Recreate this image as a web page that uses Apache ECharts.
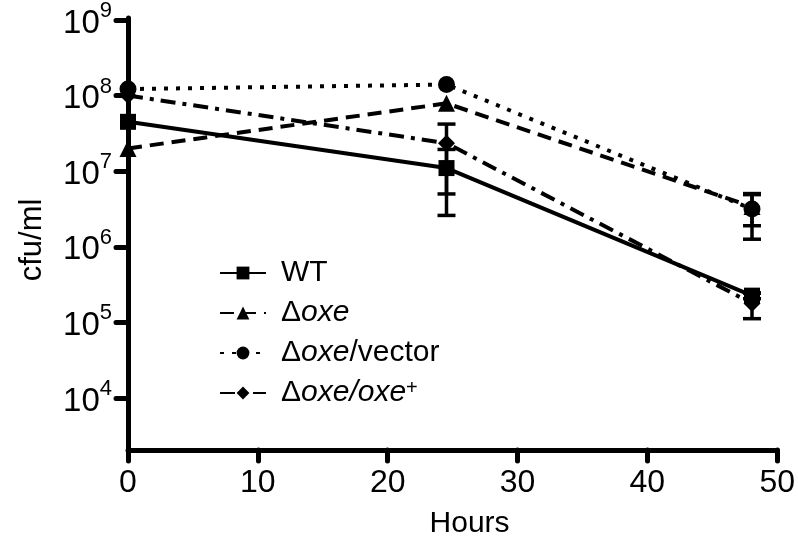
<!DOCTYPE html>
<html>
<head>
<meta charset="utf-8">
<script src="https://cdn.jsdelivr.net/npm/echarts@6/dist/echarts.min.js"></script>
<style>html,body{margin:0;padding:0;background:#fff}#c{width:798px;height:547px}</style>
</head>
<body>
<div id="c"></div>
<script>
// ---- data ----
const hours = [0, 24.5, 48];
const seriesNames = ['WT', 'Δoxe', 'Δoxe/vector', 'Δoxe/oxe+'];
const wt = [4.5e7, 1.1e7, 2.26e5];
const wtSd = [0, 8.4e6, 2e4];
const oxe = [2.0e7, 7.9e7, 3.4e6];
const oxeSd = [0, 0, 1.5e6];
const vec = [1.22e8, 1.4e8, 3.16e6];
const vecSd = [0, 0, 1.9e6];
const comp = [1.0e8, 2.35e7, 1.78e5];
const compSd = [0, 1.85e7, 6.6e4];
const xTicks = [0, 10, 20, 30, 40, 50];
const yDecades = [4, 5, 6, 7, 8, 9];

const FONT = 'Liberation Sans, Arial, Helvetica, sans-serif';
const BLACK = '#000';

function pts(vals) { return hours.map((h, i) => [h, vals[i]]); }
function errs(vals, sd) {
  return hours.map((h, i) => [h, Math.max(vals[i] - sd[i], 1e4), vals[i] + sd[i]]).filter((d, i) => sd[i] > 0);
}

const styles = [
  { symbol: 'rect', size: 16, dash: 'solid' },
  { symbol: 'triangle', size: 17, dash: [14, 8] },
  { symbol: 'circle', size: 17, dash: [4, 8] },
  { symbol: 'diamond', size: 17, dash: [15, 7, 4, 7] }
];
const values = [wt, oxe, vec, comp];
const sds = [wtSd, oxeSd, vecSd, compSd];

const series = [];
seriesNames.forEach((name, k) => {
  series.push({
    name: name,
    type: 'line',
    xAxisIndex: 0, yAxisIndex: 0,
    data: pts(values[k]),
    symbol: styles[k].symbol,
    symbolSize: styles[k].size,
    showAllSymbol: true,
    itemStyle: { color: BLACK },
    lineStyle: { color: BLACK, width: 4, type: styles[k].dash, cap: 'butt' },
    z: 3 + k,
    animation: false
  });
  series.push({
    type: 'custom',
    xAxisIndex: 0, yAxisIndex: 0,
    data: errs(values[k], sds[k]),
    z: 2,
    silent: true,
    animation: false,
    renderItem: function (params, api) {
      const x = api.value(0);
      const lo = api.coord([x, api.value(1)]);
      const hi = api.coord([x, api.value(2)]);
      const w = 9;
      const st = { stroke: BLACK, lineWidth: 3.5 };
      return {
        type: 'group',
        children: [
          { type: 'line', shape: { x1: lo[0], y1: lo[1], x2: hi[0], y2: hi[1] }, style: st },
          { type: 'line', shape: { x1: lo[0] - w, y1: lo[1], x2: lo[0] + w, y2: lo[1] }, style: st },
          { type: 'line', shape: { x1: hi[0] - w, y1: hi[1], x2: hi[0] + w, y2: hi[1] }, style: st }
        ]
      };
    }
  });
});

const LF = 30;
const legendRich = {
  n: { fontSize: LF, fontFamily: FONT, color: BLACK, lineHeight: 30 },
  i: { fontSize: LF, fontFamily: FONT, fontStyle: 'italic', color: BLACK, lineHeight: 30 },
  sup: { fontSize: 20, fontFamily: FONT, color: BLACK, verticalAlign: 'top', lineHeight: 20 }
};
function legendFmt(name) {
  if (name === 'WT') return '{n|WT}';
  if (name === 'Δoxe') return '{n|Δ}{i|oxe}';
  if (name === 'Δoxe/vector') return '{n|Δ}{i|oxe}{n|/vector}';
  return '{n|Δ}{i|oxe/oxe}{sup|+}';
}

const chart = echarts.init(document.getElementById('c'), null, { renderer: 'canvas' });
chart.setOption({
  backgroundColor: '#fff',
  animation: false,
  grid: [
    { left: 128, right: 20, top: 18, height: 380, containLabel: false },
    { left: 128, right: 20, top: 18, bottom: 97, containLabel: false }
  ],
  xAxis: [
    { gridIndex: 0, type: 'value', min: 0, max: 50, show: false },
    {
      gridIndex: 1, type: 'value', min: 0, max: 50, interval: 10,
      name: 'Hours', nameLocation: 'middle', nameGap: 59,
      nameTextStyle: { fontSize: 30, fontFamily: FONT, color: BLACK, padding: [0, 0, 0, 34] },
      axisLine: { show: true, lineStyle: { color: BLACK, width: 5, cap: 'round' } },
      axisTick: { show: true, length: 11, lineStyle: { color: BLACK, width: 5, cap: 'round' } },
      axisLabel: { margin: 17, fontSize: 32, fontFamily: FONT, color: BLACK,
        formatter: v => xTicks.indexOf(v) >= 0 ? String(v) : '' },
      splitLine: { show: false }
    }
  ],
  yAxis: [
    {
      gridIndex: 0, type: 'log', min: Math.pow(10, yDecades[0]), max: Math.pow(10, yDecades[yDecades.length - 1]),
      logBase: 10, splitNumber: 5,
      axisLine: { show: false },
      axisTick: { show: true, length: 12, lineStyle: { color: BLACK, width: 5, cap: 'round' } },
      axisLabel: {
        margin: 16,
        formatter: function (v) {
          const e = Math.round(Math.log10(v));
          return '{b|10}{s|' + e + '}';
        },
        rich: {
          b: { fontSize: 33, fontFamily: FONT, color: BLACK, lineHeight: 40, verticalAlign: 'bottom' },
          s: { fontSize: 22, fontFamily: FONT, color: BLACK, verticalAlign: 'top', lineHeight: 22 }
        }
      },
      splitLine: { show: false }
    },
    {
      gridIndex: 1, type: 'value', min: 0, max: 1,
      name: 'cfu/ml', nameLocation: 'middle', nameGap: 80,
      nameTextStyle: { fontSize: 31, fontFamily: FONT, color: BLACK, padding: [0, 12, 0, 0] },
      axisLine: { show: true, lineStyle: { color: BLACK, width: 5, cap: 'round' } },
      axisTick: { show: false },
      axisLabel: { show: false },
      splitLine: { show: false }
    }
  ],
  legend: {
    orient: 'vertical',
    left: 214, top: 253,
    itemWidth: 46, itemHeight: 16,
    itemGap: 10,
    data: seriesNames,
    formatter: legendFmt,
    textStyle: { fontSize: LF, fontFamily: FONT, color: BLACK, rich: legendRich, padding: [0, 0, 0, 10] },
    selectedMode: false
  },
  series: series
});
</script>
</body>
</html>
